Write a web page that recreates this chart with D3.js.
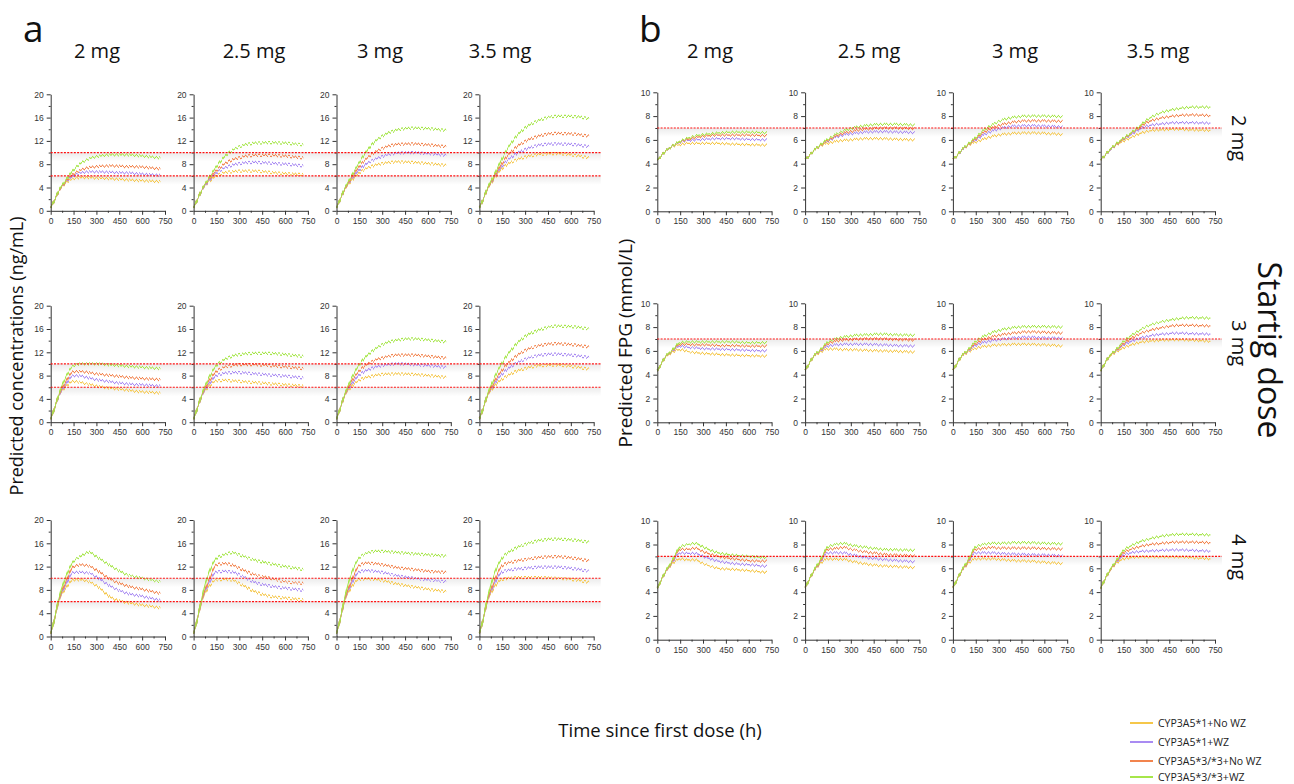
<!DOCTYPE html>
<html>
<head>
<meta charset="utf-8">
<script src="https://cdn.jsdelivr.net/npm/d3@7"></script>
<style>
  body { margin: 0; background: #fff; }
  svg { display: block; }
</style>
</head>
<body>
<div id="chart"></div>
<script>
// sample times (h)
const times = [0, 25, 50, 100, 150, 200, 250, 300, 400, 500, 600, 720];

const seriesNames = ["CYP3A5*1+No WZ", "CYP3A5*1+WZ", "CYP3A5*3/*3+No WZ", "CYP3A5*3/*3+WZ"];
const seriesColors = ["#F5C74A", "#A98BF2", "#F2844E", "#A6E64A"];
const maintDoses = ["2 mg", "2.5 mg", "3 mg", "3.5 mg"];
const startDoses = ["2 mg", "3 mg", "4 mg"];

const xTicks = [0, 150, 300, 450, 600, 750];
const xMinor = [75, 225, 375, 525, 675];
const concTicks = [0, 4, 8, 12, 16, 20];
const concMinor = [2, 6, 10, 14, 18];
const fpgTicks = [0, 2, 4, 6, 8, 10];
const fpgMinor = [1, 3, 5, 7, 9];
const concRefs = [6, 10];
const fpgRefs = [7];

// panel a: predicted concentrations, [maintenance dose][series][time]
const concStart2 = [
  [[0.5,1.8,3.2,4.8,5.5,5.7,5.7,5.6,5.5,5.3,5.2,5.0],
   [0.5,1.8,3.2,5.0,6.0,6.5,6.7,6.7,6.6,6.5,6.3,6.1],
   [0.5,1.8,3.2,5.1,6.3,7.0,7.4,7.6,7.7,7.6,7.5,7.2],
   [0.5,1.8,3.3,5.3,7.0,8.2,8.9,9.3,9.6,9.6,9.4,9.1]],
  [[0.5,1.9,3.3,5.0,6.0,6.5,6.7,6.8,6.8,6.6,6.4,6.2],
   [0.5,1.9,3.3,5.2,6.5,7.3,7.8,8.1,8.3,8.2,8.0,7.7],
   [0.5,1.9,3.4,5.4,6.9,8.0,8.7,9.1,9.5,9.5,9.4,9.1],
   [0.5,1.9,3.4,5.6,7.6,9.2,10.3,11.0,11.6,11.7,11.6,11.3]],
  [[0.5,2.0,3.4,5.2,6.5,7.3,7.8,8.1,8.4,8.3,8.1,7.8],
   [0.5,2.0,3.5,5.5,7.0,8.1,8.8,9.3,9.9,10.0,9.8,9.5],
   [0.5,2.0,3.5,5.7,7.6,9.0,10.0,10.7,11.4,11.5,11.3,11.0],
   [0.5,2.0,3.6,6.0,8.3,10.3,11.8,12.8,13.9,14.2,14.1,13.8]],
  [[0.5,2.0,3.5,5.6,7.3,8.2,8.8,9.2,9.7,9.8,9.6,9.1],
   [0.5,2.0,3.6,5.8,7.7,9.0,9.9,10.5,11.3,11.5,11.4,11.0],
   [0.5,2.0,3.6,6.0,8.2,9.9,11.1,11.9,12.9,13.3,13.2,12.8],
   [0.5,2.0,3.7,6.3,9.0,11.3,13.0,14.2,15.6,16.2,16.2,15.8]]
];
const concStart3 = [
  [[0.5,2.4,4.3,6.1,7.0,6.8,6.5,6.2,5.8,5.5,5.2,5.0],
   [0.5,2.4,4.3,6.5,8.0,7.9,7.6,7.3,6.9,6.6,6.4,6.2],
   [0.5,2.4,4.4,7.0,8.7,8.7,8.5,8.3,8.0,7.7,7.5,7.3],
   [0.5,2.4,4.5,7.8,9.7,10.0,10.0,10.0,9.8,9.6,9.4,9.2]],
  [[0.5,2.4,4.3,6.1,7.1,7.2,7.1,7.0,6.8,6.6,6.4,6.2],
   [0.5,2.4,4.3,6.5,8.0,8.4,8.5,8.5,8.3,8.1,7.9,7.6],
   [0.5,2.4,4.4,7.0,8.7,9.4,9.7,9.9,9.9,9.7,9.5,9.2],
   [0.5,2.4,4.5,7.6,9.7,10.7,11.3,11.6,11.8,11.8,11.6,11.3]],
  [[0.5,2.4,4.3,6.1,7.2,7.7,8.0,8.2,8.3,8.2,8.0,7.7],
   [0.5,2.4,4.4,6.5,8.1,8.9,9.4,9.7,10.0,9.9,9.7,9.4],
   [0.5,2.4,4.4,7.0,8.8,9.9,10.6,11.0,11.5,11.5,11.3,11.0],
   [0.5,2.4,4.5,7.6,9.9,11.4,12.5,13.3,14.1,14.3,14.1,13.8]],
  [[0.5,2.4,4.3,6.2,7.4,8.2,8.8,9.2,9.7,9.8,9.6,9.1],
   [0.5,2.4,4.4,6.6,8.3,9.4,10.2,10.8,11.5,11.7,11.5,11.1],
   [0.5,2.4,4.4,7.0,9.0,10.4,11.5,12.3,13.2,13.5,13.3,12.9],
   [0.5,2.4,4.5,7.7,10.2,12.1,13.6,14.7,15.9,16.5,16.4,16.0]]
];
const concStart4 = [
  [[0.5,3.0,5.8,8.3,9.7,9.7,9.4,8.7,6.6,5.8,5.4,4.9],
   [0.5,3.0,5.9,8.9,11.0,11.0,10.9,10.2,8.5,7.4,6.9,6.2],
   [0.5,3.0,6.0,9.4,12.0,12.3,12.1,11.4,9.7,8.7,8.1,7.4],
   [0.5,3.0,6.2,10.3,12.9,13.8,14.5,13.7,12.0,10.6,10.0,9.4]],
  [[0.5,3.0,5.8,8.5,9.7,9.8,9.7,9.1,7.7,6.9,6.6,6.3],
   [0.5,3.0,5.9,9.1,11.1,11.2,11.1,10.6,9.3,8.7,8.3,7.9],
   [0.5,3.0,6.0,9.6,12.3,12.5,12.3,11.7,10.6,10.0,9.4,9.1],
   [0.5,3.0,6.2,10.9,13.4,14.0,14.4,14.0,13.1,12.5,12.0,11.5]],
  [[0.5,3.0,5.8,8.5,9.8,9.9,9.8,9.6,9.0,8.5,8.1,7.7],
   [0.5,3.0,5.9,9.1,11.1,11.3,11.2,11.0,10.4,10.0,9.7,9.4],
   [0.5,3.0,6.0,9.6,12.2,12.6,12.5,12.3,11.8,11.5,11.2,11.0],
   [0.5,3.0,6.2,10.9,13.5,14.3,14.6,14.6,14.4,14.2,14.0,13.8]],
  [[0.5,3.0,5.8,8.5,9.8,10.0,10.1,10.1,10.1,10.0,9.8,9.3],
   [0.5,3.0,5.9,9.1,11.1,11.4,11.6,11.7,11.9,11.9,11.7,11.2],
   [0.5,3.0,6.0,9.6,12.2,12.7,13.0,13.2,13.6,13.7,13.5,13.0],
   [0.5,3.0,6.2,10.9,13.5,14.6,15.3,15.8,16.5,16.7,16.6,16.2]]
];

// panel b: predicted FPG
const fpgStart2 = [
  [[4.3,4.65,5.0,5.45,5.6,5.7,5.7,5.7,5.7,5.65,5.6,5.55],
   [4.3,4.65,5.0,5.5,5.8,5.95,6.0,6.05,6.1,6.1,6.05,6.0],
   [4.3,4.65,5.0,5.5,5.85,6.05,6.2,6.3,6.4,6.4,6.4,6.35],
   [4.3,4.65,5.0,5.5,5.9,6.15,6.35,6.45,6.6,6.65,6.65,6.6]],
  [[4.3,4.65,5.0,5.5,5.7,5.85,5.95,6.0,6.1,6.1,6.05,6.0],
   [4.3,4.65,5.0,5.55,5.9,6.2,6.4,6.5,6.65,6.7,6.65,6.6],
   [4.3,4.65,5.0,5.55,5.95,6.3,6.55,6.7,6.9,7.0,7.0,6.95],
   [4.3,4.65,5.0,5.6,6.05,6.45,6.75,6.95,7.2,7.3,7.3,7.25]],
  [[4.3,4.65,5.0,5.55,5.8,6.05,6.25,6.4,6.55,6.6,6.55,6.45],
   [4.3,4.65,5.0,5.6,6.0,6.4,6.7,6.9,7.15,7.2,7.15,7.1],
   [4.3,4.65,5.05,5.6,6.1,6.6,6.95,7.2,7.5,7.6,7.6,7.55],
   [4.3,4.65,5.05,5.65,6.2,6.8,7.2,7.55,7.9,8.0,8.0,7.95]],
  [[4.3,4.65,5.0,5.55,5.9,6.2,6.5,6.7,6.85,6.9,6.85,6.8],
   [4.3,4.65,5.0,5.6,6.05,6.45,6.85,7.15,7.35,7.45,7.45,7.4],
   [4.3,4.65,5.05,5.6,6.1,6.55,7.0,7.45,7.85,8.05,8.1,8.05],
   [4.3,4.65,5.05,5.65,6.15,6.6,7.1,7.65,8.3,8.6,8.75,8.75]]
];
const fpgStart3 = [
  [[4.3,4.9,5.4,5.9,6.1,5.95,5.85,5.8,5.7,5.65,5.6,5.55],
   [4.3,4.9,5.45,6.0,6.4,6.3,6.25,6.2,6.15,6.1,6.05,6.0],
   [4.3,4.9,5.45,6.05,6.55,6.55,6.5,6.5,6.45,6.45,6.4,6.4],
   [4.3,4.9,5.45,6.1,6.7,6.75,6.75,6.75,6.75,6.75,6.7,6.7]],
  [[4.3,4.9,5.4,5.9,6.15,6.15,6.1,6.1,6.05,6.0,5.95,5.9],
   [4.3,4.9,5.45,6.0,6.4,6.5,6.55,6.55,6.55,6.5,6.45,6.4],
   [4.3,4.9,5.45,6.05,6.6,6.8,6.9,6.95,7.0,7.0,6.95,6.9],
   [4.3,4.9,5.45,6.1,6.75,7.0,7.15,7.25,7.35,7.4,7.35,7.3]],
  [[4.3,4.9,5.4,5.9,6.2,6.35,6.45,6.5,6.55,6.55,6.5,6.4],
   [4.3,4.9,5.45,6.0,6.45,6.7,6.85,6.95,7.1,7.15,7.1,7.05],
   [4.3,4.9,5.45,6.05,6.6,6.95,7.15,7.3,7.5,7.6,7.55,7.5],
   [4.3,4.9,5.45,6.1,6.8,7.2,7.5,7.7,7.95,8.05,8.05,8.0]],
  [[4.3,4.9,5.4,5.9,6.25,6.5,6.7,6.8,6.9,6.95,6.9,6.8],
   [4.3,4.9,5.45,6.0,6.5,6.8,7.05,7.2,7.4,7.5,7.45,7.4],
   [4.3,4.9,5.45,6.05,6.6,7.05,7.4,7.65,7.95,8.15,8.15,8.1],
   [4.3,4.9,5.45,6.1,6.8,7.3,7.7,8.05,8.45,8.7,8.8,8.75]]
];
const fpgStart4 = [
  [[4.3,5.0,5.6,6.4,6.8,6.7,6.7,6.4,6.0,5.9,5.8,5.65],
   [4.3,5.0,5.6,6.55,7.3,7.25,7.25,7.0,6.6,6.4,6.3,6.15],
   [4.3,5.0,5.6,6.6,7.6,7.6,7.7,7.4,7.0,6.8,6.65,6.6],
   [4.3,5.0,5.65,6.7,7.8,8.0,8.1,7.8,7.3,7.1,7.0,6.9]],
  [[4.3,5.0,5.6,6.4,6.8,6.75,6.75,6.6,6.35,6.2,6.15,6.05],
   [4.3,5.0,5.6,6.55,7.3,7.3,7.3,7.15,6.9,6.75,6.65,6.55],
   [4.3,5.0,5.6,6.6,7.6,7.65,7.75,7.6,7.35,7.2,7.1,7.05],
   [4.3,5.0,5.65,6.7,7.8,8.0,8.1,7.95,7.75,7.6,7.55,7.5]],
  [[4.3,5.0,5.6,6.4,6.8,6.8,6.8,6.75,6.65,6.6,6.5,6.4],
   [4.3,5.0,5.6,6.55,7.3,7.3,7.3,7.25,7.2,7.15,7.1,7.05],
   [4.3,5.0,5.6,6.6,7.6,7.65,7.75,7.7,7.7,7.7,7.65,7.6],
   [4.3,5.0,5.65,6.7,7.8,8.0,8.1,8.1,8.15,8.15,8.1,8.05]],
  [[4.3,5.0,5.6,6.4,6.8,6.9,6.95,6.95,6.95,6.95,6.9,6.8],
   [4.3,5.0,5.6,6.5,7.1,7.3,7.4,7.45,7.5,7.55,7.5,7.45],
   [4.3,5.0,5.6,6.55,7.3,7.6,7.8,7.95,8.1,8.2,8.2,8.15],
   [4.3,5.0,5.65,6.6,7.5,7.9,8.2,8.4,8.7,8.85,8.85,8.8]]
];

const W = 1294, H = 784;
const font = "'Open Sans', 'Noto Sans', sans-serif";

const svg = d3.select("#chart").append("svg")
  .attr("width", W).attr("height", H)
  .attr("font-family", font);

const defs = svg.append("defs");

// light shadow under the reference lines
const shade = defs.append("linearGradient").attr("id", "shade")
  .attr("x1", 0).attr("y1", 0).attr("x2", 0).attr("y2", 1);
shade.append("stop").attr("offset", 0).attr("stop-color", "#000").attr("stop-opacity", 0.08);
shade.append("stop").attr("offset", 1).attr("stop-color", "#000").attr("stop-opacity", 0);

// daily-dose zigzag drawn as a displacement filter over the smooth line
const tile = "<svg xmlns='http://www.w3.org/2000/svg' width='11' height='11'>" +
  "<defs><linearGradient id='z' x1='0' x2='3.6667' y1='0' y2='0' gradientUnits='userSpaceOnUse' spreadMethod='repeat'>" +
  "<stop offset='0' stop-color='rgb(0,128,0)'/><stop offset='0.5' stop-color='rgb(255,128,0)'/>" +
  "<stop offset='1' stop-color='rgb(0,128,0)'/></linearGradient></defs>" +
  "<rect width='11' height='11' fill='url(#z)'/></svg>";
const tileUri = "data:image/svg+xml;charset=utf-8," + encodeURIComponent(tile);

function zigFilter(id, amp) {
  const f = defs.append("filter").attr("id", id)
    .attr("filterUnits", "userSpaceOnUse").attr("primitiveUnits", "userSpaceOnUse")
    .attr("x", -10).attr("y", -20).attr("width", 150).attr("height", 170)
    .attr("color-interpolation-filters", "sRGB");
  f.append("feImage").attr("href", tileUri).attr("xlink:href", tileUri)
    .attr("x", 0).attr("y", 0).attr("width", 11).attr("height", 11)
    .attr("preserveAspectRatio", "none").attr("result", "tile");
  f.append("feTile").attr("in", "tile").attr("result", "map");
  f.append("feDisplacementMap").attr("in", "SourceGraphic").attr("in2", "map")
    .attr("scale", amp).attr("xChannelSelector", "G").attr("yChannelSelector", "R");
}
zigFilter("zigA", 3);
zigFilter("zigB", 2.2);

const panelA = { x0: 50.7, dx: 142.9, tops: [94.3, 305.7, 520], w: 114.3, h: 116.5 };
const panelB = { x0: 657.3, dx: 147.8, tops: [92.3, 303.3, 520.7], w: 114.3, h: 119 };

function styleAxis(g) {
  g.select(".domain").attr("stroke", "#333");
  g.selectAll(".tick line").attr("stroke", "#333");
  g.selectAll(".tick text").attr("fill", "#333").attr("font-size", 8.5);
}

function drawPanel(cfg, rows, yMax, yTicks, yMinor, refs, zig) {
  rows.forEach((row, r) => {
    const top = cfg.tops[r];
    const y = d3.scaleLinear().domain([0, yMax]).range([cfg.h, 0]);
    const rowG = svg.append("g").attr("transform", `translate(${cfg.x0},${top})`);
    const span = cfg.dx * 3 + cfg.w + 7;

    // shadow bands under reference lines
    rowG.selectAll("rect.shade").data(refs).join("rect")
      .attr("x", 0).attr("y", d => y(d)).attr("width", span).attr("height", 9)
      .attr("fill", "url(#shade)");

    row.forEach((panel, c) => {
      const g = rowG.append("g").attr("transform", `translate(${c * cfg.dx},0)`);
      const x = d3.scaleLinear().domain([0, 750]).range([0, cfg.w]);

      const line = d3.line()
        .x((d, i) => x(times[i]))
        .y(d => y(d))
        .curve(d3.curveMonotoneX);

      g.selectAll("path.series").data(panel).join("path")
        .attr("class", "series")
        .attr("d", line)
        .attr("fill", "none")
        .attr("stroke", (d, i) => seriesColors[i])
        .attr("stroke-width", 1.25)
        .attr("filter", `url(#${zig})`);

      const ya = g.append("g")
        .call(d3.axisLeft(y).tickValues(yTicks).tickSize(4).tickSizeOuter(0).tickPadding(3));
      styleAxis(ya);
      const ym = g.append("g")
        .call(d3.axisLeft(y).tickValues(yMinor).tickSize(2).tickFormat(""));
      ym.select(".domain").remove();
      styleAxis(ym);

      const xa = g.append("g").attr("transform", `translate(0,${cfg.h})`)
        .call(d3.axisBottom(x).tickValues(xTicks).tickSize(4).tickSizeOuter(0).tickPadding(3));
      styleAxis(xa);
      const xm = g.append("g").attr("transform", `translate(0,${cfg.h})`)
        .call(d3.axisBottom(x).tickValues(xMinor).tickSize(2).tickFormat(""));
      xm.select(".domain").remove();
      styleAxis(xm);
    });

    // red reference lines
    rowG.selectAll("line.ref").data(refs).join("line")
      .attr("x1", 0).attr("x2", span)
      .attr("y1", d => y(d)).attr("y2", d => y(d))
      .attr("stroke", "#FF1010").attr("stroke-width", 1.2)
      .attr("stroke-dasharray", "2,1.3");
  });
}

drawPanel(panelA, [concStart2, concStart3, concStart4], 20, concTicks, concMinor, concRefs, "zigA");
drawPanel(panelB, [fpgStart2, fpgStart3, fpgStart4], 10, fpgTicks, fpgMinor, fpgRefs, "zigB");

// panel letters
svg.append("text").attr("x", 23).attr("y", 42).attr("font-size", 37).attr("fill", "#111").text("a");
svg.append("text").attr("x", 639).attr("y", 42).attr("font-size", 37).attr("fill", "#111").text("b");

// column titles
const titleXA = [97, 254, 380, 500];
const titleXB = [710, 869, 1015, 1158];
svg.selectAll("text.colA").data(maintDoses).join("text")
  .attr("x", (d, i) => titleXA[i]).attr("y", 58).attr("text-anchor", "middle")
  .attr("font-size", 20).attr("fill", "#111").text(d => d);
svg.selectAll("text.colB").data(maintDoses).join("text")
  .attr("x", (d, i) => titleXB[i]).attr("y", 58).attr("text-anchor", "middle")
  .attr("font-size", 20).attr("fill", "#111").text(d => d);

// row labels (starting dose)
const rowLabelY = [138, 343, 557];
startDoses.forEach((d, i) => {
  svg.append("text")
    .attr("transform", `translate(1232,${rowLabelY[i]}) rotate(90)`)
    .attr("text-anchor", "middle").attr("font-size", 20).attr("fill", "#111").text(d);
});
svg.append("text")
  .attr("transform", "translate(1258,350) rotate(90)")
  .attr("text-anchor", "middle").attr("font-size", 32).attr("fill", "#111").text("Startig dose");

// axis titles
svg.append("text")
  .attr("transform", "translate(23,356) rotate(-90)")
  .attr("text-anchor", "middle").attr("font-size", 18).attr("fill", "#111")
  .text("Predicted concentrations (ng/mL)");
svg.append("text")
  .attr("transform", "translate(632,343) rotate(-90)")
  .attr("text-anchor", "middle").attr("font-size", 19).attr("fill", "#111")
  .text("Predicted FPG (mmol/L)");
svg.append("text")
  .attr("x", 660).attr("y", 737).attr("text-anchor", "middle")
  .attr("font-size", 18.5).attr("fill", "#111")
  .text("Time since first dose (h)");

// legend
const legendY = [723, 742, 761, 777];
const leg = svg.append("g");
seriesNames.forEach((name, i) => {
  leg.append("line").attr("x1", 1130).attr("x2", 1153)
    .attr("y1", legendY[i]).attr("y2", legendY[i])
    .attr("stroke", seriesColors[i]).attr("stroke-width", 2);
  leg.append("text").attr("x", 1158).attr("y", legendY[i] + 3.5)
    .attr("font-size", 10.5).attr("fill", "#222").text(name);
});
</script>
</body>
</html>
